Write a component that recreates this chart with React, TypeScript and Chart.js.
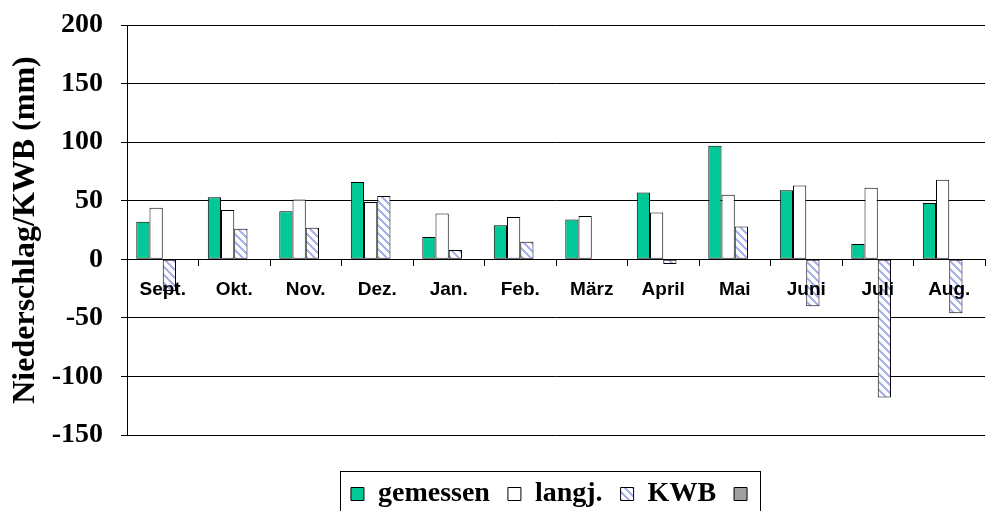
import React, { useEffect, useRef } from "react";
import { Chart, registerables } from "chart.js";

Chart.register(...registerables);

const categories = ["Sept.", "Okt.", "Nov.", "Dez.", "Jan.", "Feb.", "März", "April", "Mai", "Juni", "Juli", "Aug."];
const gemessen = [32, 53, 41, 66, 19, 29, 34, 57, 97, 59, 13, 48];
const langj = [44, 42, 51, 49, 39, 36, 37, 40, 55, 63, 61, 68];
const kwb = [-27, 26, 27, 54, 8, 15, 0, -4, 28, -40, -118, -46];
const leer: (number | null)[] = [null, null, null, null, null, null, null, null, null, null, null, null];
const seriesLabels = ["gemessen", "langj.", "KWB", ""];
const yMin = -150;
const yMax = 200;
const yStep = 50;

function makeHatch(): CanvasPattern | string {
  const c = document.createElement("canvas");
  c.width = 8;
  c.height = 8;
  const g = c.getContext("2d");
  if (!g) return "#ccd";
  g.fillStyle = "#ffffff";
  g.fillRect(0, 0, 8, 8);
  g.fillStyle = "#aab2ee";
  for (let x = 0; x < 8; x++) {
    for (let y = 0; y < 8; y++) {
      if ((x - y + 16) % 8 < 3) g.fillRect(x, y, 1, 1);
    }
  }
  const p = g.createPattern(c, "repeat");
  return p || "#ccd";
}

const serif = "'Liberation Serif', 'Times New Roman', serif";
const sans = "'Liberation Sans', Arial, sans-serif";

const legendBorder = {
  id: "legendBorder",
  afterDraw(chart: any) {
    const lg = chart.legend;
    if (!lg || !lg.legendHitBoxes || !lg.legendHitBoxes.length) return;
    const hb = lg.legendHitBoxes;
    const first = hb[0];
    const last = hb[hb.length - 1];
    const ctx = chart.ctx;
    ctx.save();
    ctx.strokeStyle = "#000";
    ctx.lineWidth = 1;
    const left = Math.round(first.left) - 11 + 0.5;
    const right = Math.round(last.left) + 13 + 13 + 0.5;
    const top = Math.round(first.top) - 9 + 0.5;
    ctx.strokeRect(left, top, right - left, 600);
    ctx.restore();
  },
};

export default function App() {
  const ref = useRef<HTMLCanvasElement | null>(null);
  useEffect(() => {
    if (!ref.current) return;
    const hatch = makeHatch();
    const chart = new Chart(ref.current, {
      type: "bar",
      data: {
        labels: categories,
        datasets: [
          { label: seriesLabels[0], data: gemessen, backgroundColor: "#00c896", borderColor: "#000", borderWidth: 1 },
          { label: seriesLabels[1], data: langj, backgroundColor: "#ffffff", borderColor: "#000", borderWidth: 1 },
          { label: seriesLabels[2], data: kwb, backgroundColor: hatch as any, borderColor: "#000", borderWidth: 1 },
          { label: seriesLabels[3], data: leer, backgroundColor: "#a0a0a0", borderColor: "#000", borderWidth: 1 },
        ],
      },
      options: {
        animation: false,
        responsive: false,
        devicePixelRatio: 1,
        layout: { padding: { left: 13, right: 3, top: 25, bottom: 0 } },
        datasets: { bar: { categoryPercentage: 0.74, barPercentage: 1.0, borderSkipped: false } },
        plugins: {
          tooltip: { enabled: false },
          legend: {
            position: "bottom",
            fullSize: false,
            title: { display: true, text: "", padding: { top: 26, bottom: 0 }, font: { size: 1, lineHeight: 1 } },
            labels: {
              color: "#000",
              boxWidth: 13,
              boxHeight: 13,
              padding: 18,
              font: { family: serif, size: 28, weight: "bold" },
            },
          },
        },
        scales: {
          x: {
            position: { y: 0 } as any,
            afterFit: (s: any) => {
              s.height = 0;
              s.paddingLeft = 0;
              s.paddingRight = 0;
            },
            grid: { display: true, drawOnChartArea: false, drawTicks: true, tickLength: 6, color: "#000", offset: true, z: 1 },
            border: { display: true, color: "#000", width: 1, z: 1 },
            ticks: { z: 1, color: "#000", padding: 13, maxRotation: 0, autoSkip: false, font: { family: sans, size: 19, weight: "bold" } },
          },
          y: {
            min: yMin,
            max: yMax,
            afterFit: (s: any) => {
              s.width = 114;
              s.paddingTop = 0;
              s.paddingBottom = 0;
            },
            ticks: { stepSize: yStep, color: "#000", padding: 18, font: { family: serif, size: 28, weight: "bold" } },
            grid: { color: "#000", lineWidth: 1, tickLength: 6 },
            border: { display: true, color: "#000", width: 1 },
            title: {
              display: true,
              text: "Niederschlag/KWB (mm)",
              color: "#000",
              padding: 0,
              font: { family: serif, size: 32, weight: "bold", lineHeight: 0.8 },
            },
          },
        },
      },
      plugins: [legendBorder],
    });
    return () => chart.destroy();
  }, []);
  return (
    <div style={{ position: "fixed", left: 0, top: 0, width: 988, height: 511, overflow: "hidden", background: "#fff" }}>
      <canvas ref={ref} width={988} height={518} style={{ width: 988, height: 518 }} />
    </div>
  );
}
